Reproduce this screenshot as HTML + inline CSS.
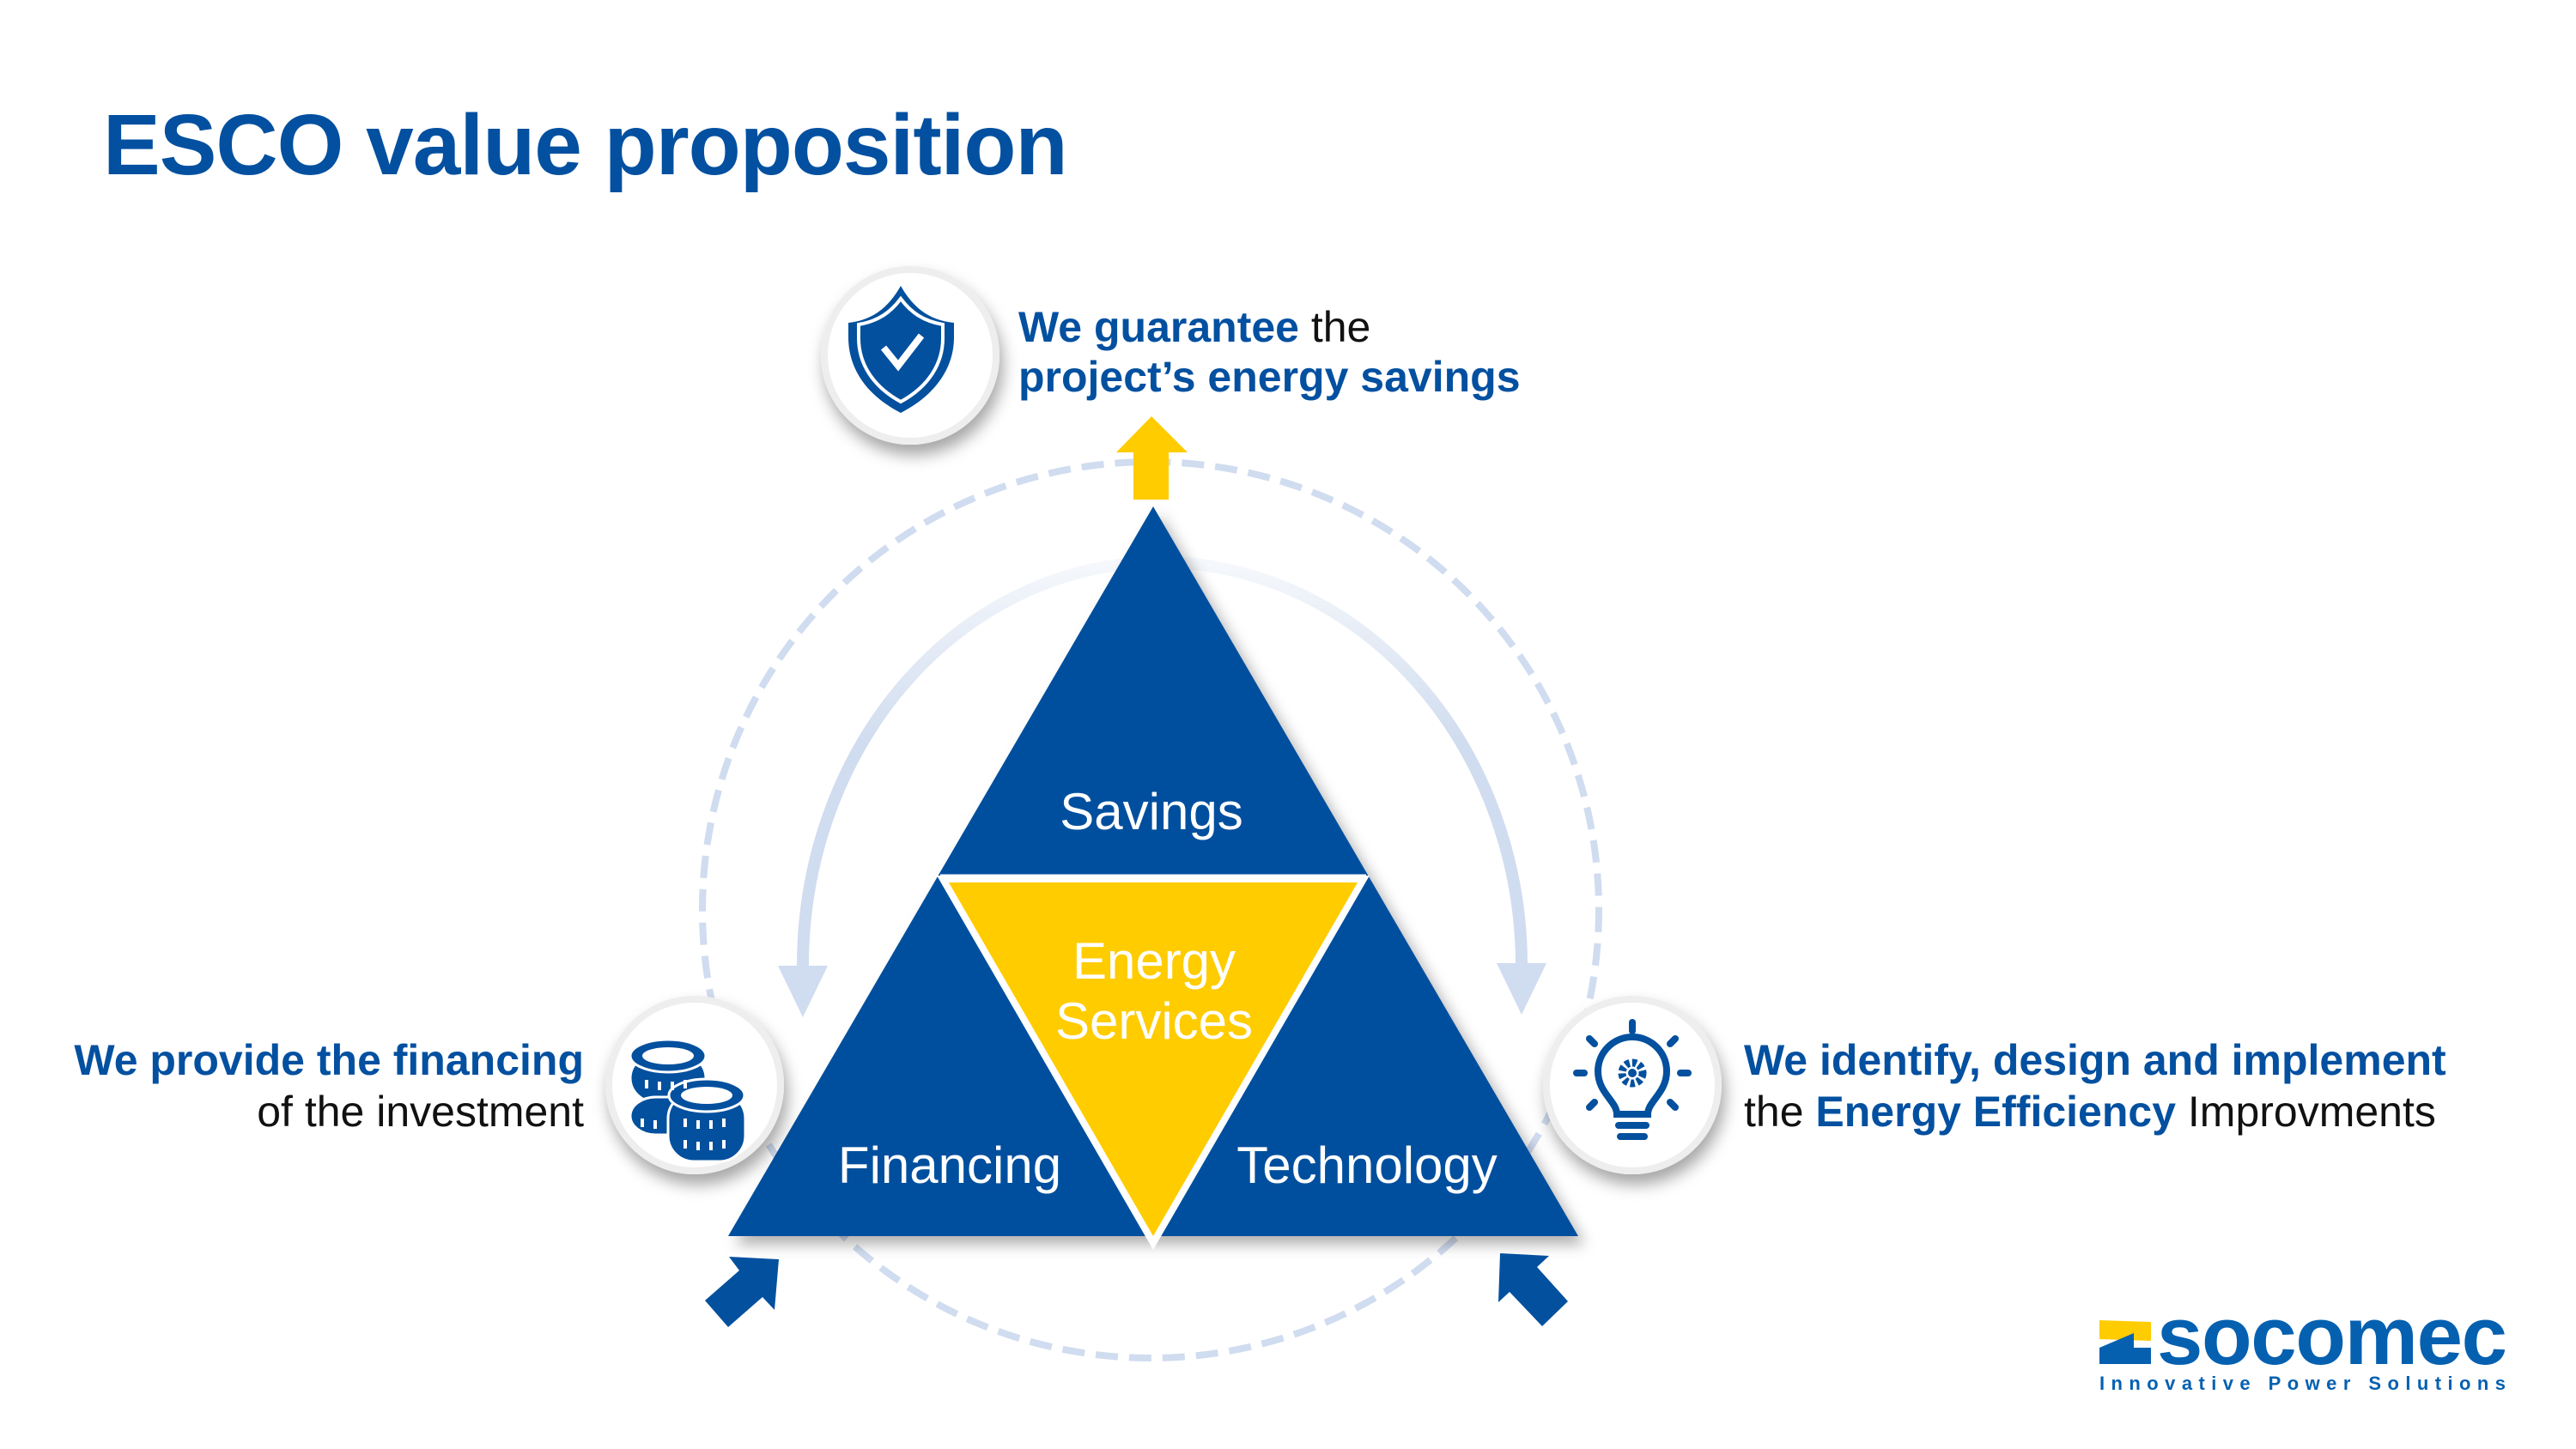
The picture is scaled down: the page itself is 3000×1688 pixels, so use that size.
<!DOCTYPE html>
<html><head><meta charset="utf-8"><style>
html,body{margin:0;padding:0;background:#fff}
svg{display:block}
text{font-family:"Liberation Sans",Arial,sans-serif}
</style></head><body>
<svg width="3000" height="1688" viewBox="0 0 3000 1688" xmlns="http://www.w3.org/2000/svg">
<defs>
<filter id="sh" x="-20%" y="-20%" width="140%" height="140%"><feDropShadow dx="8" dy="10" stdDeviation="8" flood-color="#000" flood-opacity="0.3"/></filter>
<filter id="sh2" x="-30%" y="-30%" width="160%" height="160%"><feDropShadow dx="4" dy="12" stdDeviation="9" flood-color="#000" flood-opacity="0.35"/></filter>
<linearGradient id="gl" x1="0" y1="0" x2="0" y2="1"><stop offset="0" stop-color="#d0dcef" stop-opacity="0.2"/><stop offset="0.45" stop-color="#d0dcef"/><stop offset="1" stop-color="#d0dcef"/></linearGradient>
</defs>

<text x="120" y="203" font-size="100" font-weight="bold" fill="#0350a0" letter-spacing="-1">ESCO value proposition</text>

<circle cx="1340" cy="1060" r="522" fill="none" stroke="#d0dcef" stroke-width="8" stroke-dasharray="26 13"/>

<path d="M1350 655 A415 470 0 0 0 935 1125" fill="none" stroke="url(#gl)" stroke-width="14"/>
<polygon points="906,1125 964,1125 935,1185" fill="#d0dcef"/>
<path d="M1350 655 A422 470 0 0 1 1772 1122" fill="none" stroke="url(#gl)" stroke-width="14"/>
<polygon points="1743,1122 1801,1122 1772,1182" fill="#d0dcef"/>

<g filter="url(#sh)">
<polygon points="1343,590 848,1440 1838,1440" fill="#03509e"/>
</g>
<line x1="1095" y1="1022" x2="1591" y2="1022" stroke="#fff" stroke-width="7"/>
<polygon points="1098,1024 1588,1024 1343,1448" fill="#ffcc00" stroke="#fff" stroke-width="8" stroke-linejoin="miter"/>

<polygon points="1341,485 1383,527 1361,527 1361,582 1320,582 1320,527 1300,527" fill="#ffcc00"/>

<text x="1341" y="966" font-size="60" fill="#fff" text-anchor="middle">Savings</text>
<text x="1344" y="1140" font-size="60" fill="#fff" text-anchor="middle">Energy</text>
<text x="1344" y="1210" font-size="60" fill="#fff" text-anchor="middle">Services</text>
<text x="1106" y="1378" font-size="60" fill="#fff" text-anchor="middle">Financing</text>
<text x="1592" y="1378" font-size="60" fill="#fff" text-anchor="middle">Technology</text>

<polygon points="907,1467 849,1464 861,1480 821,1515 848,1546 888,1511 902,1526" fill="#03509e"/>
<polygon points="1747,1460 1804,1463 1790,1476 1826,1516 1796,1545 1758,1505 1745,1517" fill="#03509e"/>

<g filter="url(#sh2)">
<circle cx="1060" cy="414" r="100" fill="#fff" stroke="#eeeeee" stroke-width="8"/>
<circle cx="809" cy="1264" r="100" fill="#fff" stroke="#eeeeee" stroke-width="8"/>
<circle cx="1901" cy="1264" r="100" fill="#fff" stroke="#eeeeee" stroke-width="8"/>
</g>

<g transform="translate(-10,-2)">
<path d="M1059 335 C1072 358 1090 375 1121 378 L1121 395 C1121 430 1100 462 1059 483 C1018 462 998 430 998 395 L998 378 C1028 375 1046 358 1059 335 Z" fill="#03509e"/>
<path d="M1059 350 C1071 366 1085 376 1108 380 L1108 396 C1108 425 1092 452 1059 470 C1026 452 1010 425 1010 396 L1010 380 C1033 376 1047 366 1059 350 Z" fill="none" stroke="#fff" stroke-width="4"/>
<polyline points="1039,407 1056,428 1083,393" fill="none" stroke="#fff" stroke-width="8"/>
</g>

<g transform="translate(-12,-2)">
<g fill="#03509e" stroke="#fff" stroke-width="3">
<rect x="746" y="1230" width="88" height="56" rx="30" />
<ellipse cx="790" cy="1232" rx="44" ry="19"/>
<ellipse cx="790" cy="1232" rx="30" ry="10" fill="#fff" stroke="none"/>
<rect x="746" y="1280" width="88" height="44" rx="30"/>
<rect x="790" y="1275" width="90" height="80" rx="30"/>
<ellipse cx="835" cy="1278" rx="44" ry="19"/>
<ellipse cx="835" cy="1278" rx="30" ry="10" fill="#fff" stroke="none"/>
</g>
<g stroke="#fff" stroke-width="4">
<line x1="765" y1="1260" x2="765" y2="1270"/><line x1="780" y1="1262" x2="780" y2="1272"/><line x1="795" y1="1262" x2="795" y2="1272"/><line x1="810" y1="1260" x2="810" y2="1270"/>
<line x1="760" y1="1305" x2="760" y2="1315"/><line x1="775" y1="1307" x2="775" y2="1317"/>
<line x1="810" y1="1305" x2="810" y2="1315"/><line x1="825" y1="1307" x2="825" y2="1317"/><line x1="840" y1="1307" x2="840" y2="1317"/><line x1="855" y1="1305" x2="855" y2="1315"/>
<line x1="810" y1="1330" x2="810" y2="1340"/><line x1="825" y1="1332" x2="825" y2="1342"/><line x1="840" y1="1332" x2="840" y2="1342"/><line x1="855" y1="1330" x2="855" y2="1340"/>
</g>
</g>

<g transform="translate(-19,-2)">
<g fill="none" stroke="#03509e" stroke-width="8" stroke-linecap="round">
<path d="M1902 1300 C1902 1285 1880 1275 1880 1250 A40 40 0 0 1 1960 1250 C1960 1275 1938 1285 1938 1300 Z"/>
<line x1="1904" y1="1313" x2="1936" y2="1313"/><line x1="1906" y1="1326" x2="1934" y2="1326"/>
<line x1="1920" y1="1193" x2="1920" y2="1203"/>
<line x1="1870" y1="1212" x2="1876" y2="1218"/><line x1="1970" y1="1212" x2="1964" y2="1218"/>
<line x1="1855" y1="1252" x2="1864" y2="1252"/><line x1="1985" y1="1252" x2="1976" y2="1252"/>
<line x1="1870" y1="1292" x2="1876" y2="1286"/><line x1="1970" y1="1292" x2="1964" y2="1286"/>
</g>
<circle cx="1920" cy="1252" r="12" fill="none" stroke="#03509e" stroke-width="9" stroke-dasharray="5 3"/>
<circle cx="1920" cy="1252" r="5" fill="#03509e"/>
</g>

<text x="1186" y="398" font-size="50" fill="#0350a0"><tspan font-weight="bold">We guarantee</tspan><tspan fill="#111"> the</tspan></text>
<text x="1186" y="456" font-size="50" font-weight="bold" fill="#0350a0">project’s energy savings</text>

<text x="680" y="1252" font-size="50" font-weight="bold" fill="#0350a0" text-anchor="end">We provide the financing</text>
<text x="680" y="1312" font-size="50" fill="#111" text-anchor="end">of the investment</text>

<text x="2031" y="1252" font-size="50" font-weight="bold" fill="#0350a0">We identify, design and implement</text>
<text x="2031" y="1312" font-size="50" fill="#111">the <tspan font-weight="bold" fill="#0350a0">Energy Efficiency</tspan> Improvments</text>

<polygon points="2445,1538 2505,1540 2505,1562 2445,1560" fill="#ffcc00"/>
<polygon points="2445,1570 2485,1553 2485,1570 2505,1570 2505,1589 2445,1589" fill="#0560b0"/>
<text x="2512" y="1589" font-size="96" font-weight="bold" fill="#0560b0" letter-spacing="-2" textLength="406">socomec</text>
<text x="2445" y="1619" font-size="22" font-weight="bold" fill="#0560b0" textLength="473">Innovative Power Solutions</text>
</svg>
</body></html>
